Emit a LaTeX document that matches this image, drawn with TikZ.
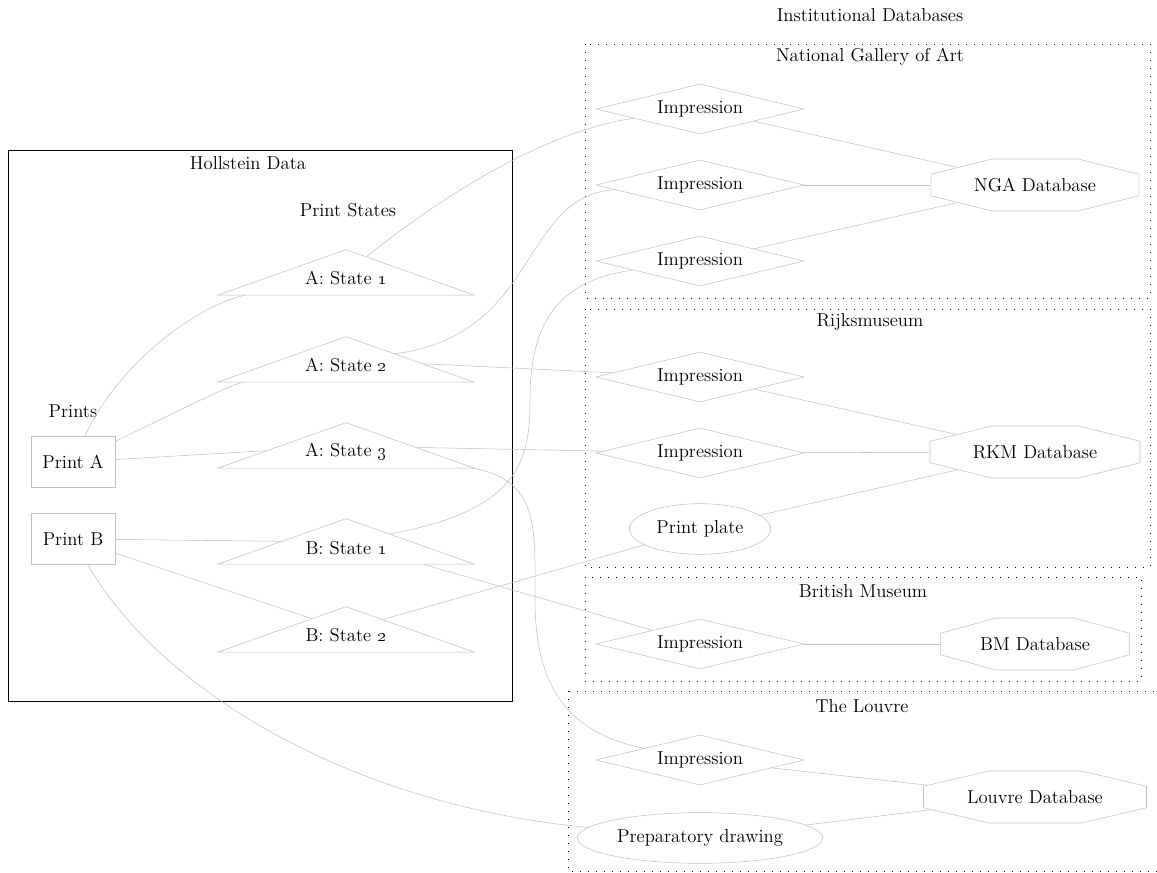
\documentclass[tikz,border=0pt]{standalone}
\usepackage{xcolor}
\usetikzlibrary{shapes.geometric}
\definecolor{edgegray}{RGB}{192,192,192}

\begin{document}
\begin{tikzpicture}[x=0.75pt,y=-0.75pt,font=\fontsize{14}{16}\selectfont]
\tikzset{prt/.style={draw=edgegray,minimum width=63pt,minimum height=38pt,inner sep=0pt},
tri/.style={draw=edgegray,isosceles triangle,isosceles triangle stretches,shape border rotate=90,minimum width=192pt,minimum height=34pt,inner sep=0pt,anchor=apex},
imp/.style={draw=edgegray,diamond,aspect=4.16,minimum width=156pt,minimum height=37.5pt,inner sep=0pt},
ell/.style={draw=edgegray,ellipse,inner sep=0pt,minimum height=38pt},
oct/.style={draw=edgegray,regular polygon,regular polygon sides=8,minimum size=42.2pt,inner sep=0pt,transform shape},
clu/.style={draw,line width=0.7pt,dash pattern=on 0.7pt off 5.3pt},
lnk/.style={draw=edgegray}}
\useasboundingbox (0,0) rectangle (1157,873);
% Hollstein side
\draw (8,150) rectangle (512,701);
\node (hd) at (248,163) {Hollstein Data}; \node (ps) at (348,210) {Print States}; \node (pr) at (73,411) {Prints};
\node[prt] (pa) at (73,462) {Print A}; \node[prt] (pb) at (73,539) {Print B};
\node[tri] (a1) at (346,249) {}; \node (a1t) at (346,278) {A: State \oldstylenums{1}};
\node[tri] (a2) at (346,336) {}; \node (a2t) at (346,365) {A: State \oldstylenums{2}};
\node[tri] (a3) at (346,422) {}; \node (a3t) at (346,452) {A: State \oldstylenums{3}};
\node[tri] (b1) at (346,518) {}; \node (b1t) at (346,548) {B: State \oldstylenums{1}};
\node[tri] (b2) at (346,606) {}; \node (b2t) at (346,635) {B: State \oldstylenums{2}};
% institutions
\node (inst) at (870,15) {Institutional Databases};
\draw[clu] (585,44) rectangle (1150,298); \node (ngal) at (870,57) {National Gallery of Art};
\draw[clu] (585,309) rectangle (1150,567); \node (rkml) at (870,322) {Rijksmuseum};
\draw[clu] (585,577) rectangle (1141,681); \node (bml) at (863,591) {British Museum};
\draw[clu] (568,691) rectangle (1157,871); \node (loul) at (862,706) {The Louvre};
\node[imp] (n1) at (700,109) {Impression}; \node[imp] (n2) at (700,185) {Impression}; \node[imp] (n3) at (700,261) {Impression};
\node[imp] (r1) at (700,377) {Impression}; \node[imp] (r2) at (700,453) {Impression};
\node[ell,minimum width=106pt] (pp) at (700,529) {Print plate};
\node[imp] (bi) at (700,644) {Impression}; \node[imp] (li) at (700,760) {Impression};
\node[ell,minimum width=184pt] (prep) at (700,838) {Preparatory drawing};
% database octagons, stretched sideways
\begin{scope}[shift={(1035,185)},xscale=4.0] \node[oct] (nga) {}; \end{scope} \node (ngat) at (1035,185) {NGA Database};
\begin{scope}[shift={(1035,452)},xscale=4.04] \node[oct] (rkm) {}; \end{scope} \node (rkmt) at (1035,452) {RKM Database};
\begin{scope}[shift={(1035,644)},xscale=3.63] \node[oct] (bm) {}; \end{scope} \node (bmt) at (1035,644) {BM Database};
\begin{scope}[shift={(1035,797)},xscale=4.29] \node[oct] (lou) {}; \end{scope} \node (lout) at (1035,797) {Louvre Database};
% links
\draw[lnk] (pa) .. controls (120,360) and (200,305) .. (a1);
\draw[lnk] (pa) .. controls (180,410) and (230,385) .. (a2);
\draw[lnk] (pa) -- (a3); \draw[lnk] (pb) -- (b1); \draw[lnk] (pb) -- (b2);
\draw[lnk] (pb) .. controls (160,690) and (350,805) .. (prep);
\draw[lnk] (a1) .. controls (450,190) and (550,130) .. (n1);
\draw[lnk] (a2) .. controls (540,335) and (520,195) .. (n2);
\draw[lnk] (a2) -- (r1); \draw[lnk] (a3) -- (r2);
\draw[lnk] (a3) .. controls (540,480) and (535,530) .. (535,600) .. controls (535,700) and (580,735) .. (li);
\draw[lnk] (b1) .. controls (520,510) and (530,460) .. (530,400) .. controls (530,320) and (560,280) .. (n3);
\draw[lnk] (b1) -- (bi); \draw[lnk] (b2) -- (pp);
\draw[lnk] (n1) -- (nga); \draw[lnk] (n2) -- (nga); \draw[lnk] (n3) -- (nga);
\draw[lnk] (r1) -- (rkm); \draw[lnk] (r2) -- (rkm); \draw[lnk] (pp) -- (rkm);
\draw[lnk] (bi) -- (bm); \draw[lnk] (li) -- (lou); \draw[lnk] (prep) -- (lou);
\end{tikzpicture}
\end{document}
